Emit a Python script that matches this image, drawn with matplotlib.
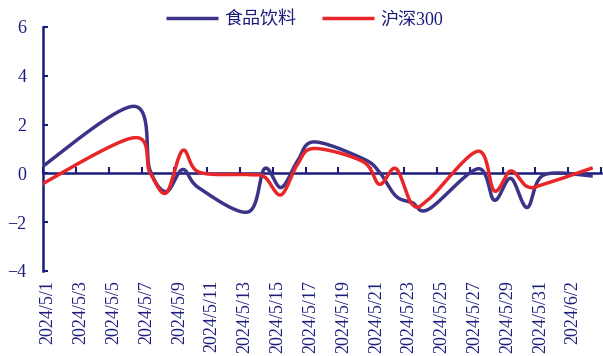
import numpy as np
import pandas as pd
import matplotlib
matplotlib.use('Agg')
import matplotlib.pyplot as plt
import matplotlib.transforms as mtransforms

# Daily returns (%) on trading days, May 2024
dates = ['2024-04-30', '2024-05-06', '2024-05-07', '2024-05-08', '2024-05-09', '2024-05-10',
         '2024-05-13', '2024-05-14', '2024-05-15', '2024-05-16', '2024-05-17',
         '2024-05-20', '2024-05-21', '2024-05-22', '2024-05-23', '2024-05-24',
         '2024-05-27', '2024-05-28', '2024-05-29', '2024-05-30', '2024-05-31', '2024-06-03']
food_bev = [0.05, 2.75, 0.15, -0.75, 0.16, -0.6,
            -1.58, 0.2, -0.58, 0.5, 1.29,
            0.6, 0.05, -0.93, -1.2, -1.47,
            0.19, -1.1, -0.2, -1.4, -0.07, -0.11]
hs300 = [-0.6, 1.46, 0.05, -0.8, 0.94, 0.05,
         -0.05, -0.15, -0.88, 0.37, 1.02,
         0.48, -0.45, 0.2, -1.27, -1.06,
         0.91, -0.72, 0.1, -0.54, -0.45, 0.23]
tick_dates = pd.date_range('2024-05-01', '2024-06-04', freq='2D')
tick_labels = [f'{d.year}/{d.month}/{d.day}' for d in tick_dates if d <= pd.Timestamp('2024-06-02')]

NAVY = '#1c1c7c'
BLUE = '#3a3388'
RED = '#e8262a'

plt.rcParams['font.family'] = ['Liberation Serif', 'Noto Sans CJK SC']
plt.rcParams['axes.unicode_minus'] = True

start = pd.Timestamp('2024-05-01')
# points sit in the middle of each day cell
x = np.array([(pd.Timestamp(d) - start).days + 0.5 for d in dates])


def smooth(xs, ys, n=40):
    # Bezier smoothing through every point, Catmull-Rom style control points
    pts = np.column_stack([xs, ys])
    out = [pts[:1]]
    for i in range(len(pts) - 1):
        p0 = pts[max(i - 1, 0)]
        p1 = pts[i]
        p2 = pts[i + 1]
        p3 = pts[min(i + 2, len(pts) - 1)]
        c1 = p1 + (p2 - p0) / 6
        c2 = p2 - (p3 - p1) / 6
        t = np.linspace(0, 1, n)[1:, None]
        seg = ((1 - t) ** 3 * p1 + 3 * (1 - t) ** 2 * t * c1
               + 3 * (1 - t) * t ** 2 * c2 + t ** 3 * p2)
        out.append(seg)
    arr = np.vstack(out)
    return arr[:, 0], arr[:, 1]


fig = plt.figure(figsize=(6.03, 3.56), dpi=100)
ax = fig.add_axes([0.0716, 0.2388, 0.925, 0.6854])

bx, by = smooth(x, food_bev)
rx, ry = smooth(x, hs300)
ax.plot(bx, by, color=BLUE, lw=2.5, label='食品饮料', solid_capstyle='butt', zorder=3)
ax.plot(rx, ry, color=RED, lw=2.5, label='沪深300', solid_capstyle='butt', zorder=4)

ax.set_xlim(0, 34)
ax.set_ylim(-4, 6)
ax.set_yticks(np.arange(-4, 7, 2))

for s in ['top', 'right']:
    ax.spines[s].set_visible(False)
ax.spines['left'].set_color(NAVY)
ax.spines['left'].set_linewidth(1.8)
ax.spines['bottom'].set_position(('data', 0))
ax.spines['bottom'].set_color(NAVY)
ax.spines['bottom'].set_linewidth(1.8)
ax.spines['bottom'].set_zorder(2)

tick_pos = np.array([(d - start).days for d in tick_dates])
ax.set_xticks(tick_pos)
ax.tick_params(axis='x', direction='in', length=4, width=1.5, color=NAVY, labelbottom=False)
ax.tick_params(axis='y', direction='in', length=3.5, width=1.5, color=NAVY,
               labelcolor=NAVY, labelsize=13, pad=12)

# date labels hang below the plot area
trans = mtransforms.blended_transform_factory(ax.transData, ax.transAxes)
trans = trans + mtransforms.ScaledTranslation(5 / 100, -9 / 100, fig.dpi_scale_trans)
for pos, lab in zip(tick_pos, tick_labels):
    ax.text(pos, 0, lab, transform=trans, rotation=90, ha='center', va='top',
            fontsize=13, color=NAVY)

leg = fig.legend(loc='upper center', bbox_to_anchor=(0.505, 1.015), ncol=2, frameon=False,
                 fontsize=13, handlelength=2.9, handletextpad=0.35, columnspacing=1.4)
for t in leg.get_texts():
    t.set_color(NAVY)

fig.savefig('out.png', dpi=100)
